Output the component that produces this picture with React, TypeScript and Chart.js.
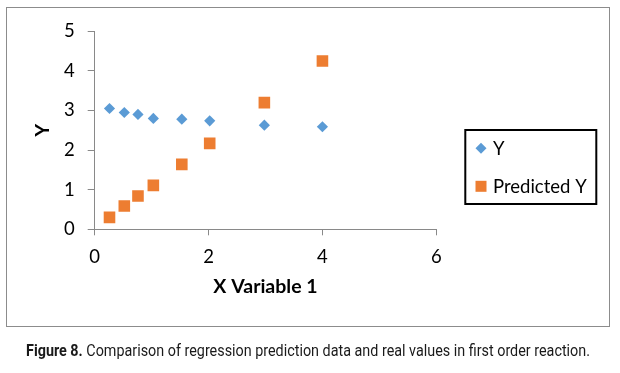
import React, { useEffect, useLayoutEffect, useRef } from 'react';
import { Chart, registerables } from 'chart.js';

Chart.register(...registerables);

const xValues = [0.26, 0.52, 0.76, 1.03, 1.53, 2.02, 2.98, 4.0];
const yActual = [3.05, 2.95, 2.9, 2.8, 2.78, 2.74, 2.63, 2.59];
const yPredicted = [0.3, 0.59, 0.84, 1.11, 1.64, 2.17, 3.2, 4.25];
const seriesLabels = ['Y', 'Predicted Y'];
const seriesColors = ['#5B9BD5', '#ED7D31'];
const xTitle = 'X Variable 1';
const yTitle = 'Y';
const xTicks = { min: 0, max: 6, step: 2 };
const yTicks = { min: 0, max: 5, step: 1 };
const captionBold = 'Figure 8.';
const captionRest = ' Comparison of regression prediction data and real values in first order reaction.';

const FONT = 'Lato, "Open Sans", sans-serif';
const AXIS_GRAY = '#898989';

const boxLegend = {
  id: 'boxLegend',
  afterDraw(chart: any) {
    const ctx = chart.ctx as CanvasRenderingContext2D;
    ctx.save();
    ctx.lineWidth = 2;
    ctx.strokeStyle = '#000';
    ctx.strokeRect(465.3, 130, 131, 74);
    ctx.font = `18.5px ${FONT}`;
    ctx.textBaseline = 'middle';
    ctx.textAlign = 'left';
    const rows = [148.3, 186.3];
    chart.data.datasets.forEach((ds: any, i: number) => {
      const cy = rows[i];
      const cx = 481;
      ctx.fillStyle = ds.backgroundColor;
      ctx.beginPath();
      if (ds.pointStyle === 'rectRot') {
        const r = 5.5;
        ctx.moveTo(cx - r, cy);
        ctx.lineTo(cx, cy - r);
        ctx.lineTo(cx + r, cy);
        ctx.lineTo(cx, cy + r);
        ctx.closePath();
      } else {
        const s = 5.5;
        ctx.rect(cx - s, cy - s, 2 * s, 2 * s);
      }
      ctx.fill();
      ctx.fillStyle = '#000';
      ctx.fillText(ds.label, 493, cy + 0.5);
    });
    ctx.restore();
  },
};

export default function App() {
  const canvasRef = useRef<HTMLCanvasElement | null>(null);
  const capRef = useRef<HTMLDivElement | null>(null);

  useLayoutEffect(() => {
    const el = capRef.current;
    if (!el) return;
    el.style.transform = 'none';
    const w = el.getBoundingClientRect().width;
    if (w > 0) el.style.transform = `scaleX(${564 / w})`;
  }, []);

  useEffect(() => {
    const canvas = canvasRef.current;
    if (!canvas) return;
    const chart = new Chart(canvas, {
      type: 'scatter',
      data: {
        datasets: [
          {
            label: seriesLabels[0],
            data: xValues.map((x, i) => ({ x, y: yActual[i] })),
            pointStyle: 'rectRot',
            pointRadius: 5.6,
            pointHoverRadius: 5.6,
            backgroundColor: seriesColors[0],
            borderColor: seriesColors[0],
            borderWidth: 0,
          },
          {
            label: seriesLabels[1],
            data: xValues.map((x, i) => ({ x, y: yPredicted[i] })),
            pointStyle: 'rect',
            pointRadius: 8.2,
            pointHoverRadius: 8.2,
            backgroundColor: seriesColors[1],
            borderColor: seriesColors[1],
            borderWidth: 0,
          },
        ],
      },
      options: {
        responsive: false,
        animation: false,
        events: [],
        layout: { padding: { left: 0, right: 183.7, top: 31.3, bottom: 60 } },
        plugins: { legend: { display: false }, tooltip: { enabled: false } },
        scales: {
          x: {
            type: 'linear',
            min: xTicks.min,
            max: xTicks.max,
            afterFit: (s: any) => { s.height = 83.7; },
            ticks: { stepSize: xTicks.step, padding: 10.5, color: '#000', font: { family: FONT, size: 18.5 } },
            grid: { display: true, drawOnChartArea: false, drawTicks: true, tickLength: 6, color: AXIS_GRAY },
            border: { display: true, color: AXIS_GRAY, width: 1 },
            title: { display: true, text: xTitle, color: '#000', font: { family: FONT, size: 19.5, weight: 'bold' }, padding: { top: 0, bottom: 15 } },
          },
          y: {
            type: 'linear',
            min: yTicks.min,
            max: yTicks.max,
            afterFit: (s: any) => { s.width = 94.7; },
            ticks: { stepSize: yTicks.step, padding: 13, color: '#000', font: { family: FONT, size: 18.5 } },
            grid: { display: true, drawOnChartArea: false, drawTicks: true, tickLength: 7, color: AXIS_GRAY },
            border: { display: true, color: AXIS_GRAY, width: 1 },
            title: { display: true, text: yTitle, color: '#000', font: { family: FONT, size: 19.5, weight: 'bold' }, padding: { top: 31, bottom: 0 } },
          },
        },
      },
      plugins: [boxLegend],
    } as any);
    return () => chart.destroy();
  }, []);

  return (
    <div style={{ position: 'absolute', left: 0, top: 0, width: 620, height: 373, background: '#fff', overflow: 'hidden' }}>
      <div style={{ position: 'absolute', left: 6, top: 7, width: 602, height: 318, border: '1px solid #8c8c8c' }} />
      <canvas ref={canvasRef} width={620} height={373} style={{ position: 'absolute', left: 0, top: 0, width: 620, height: 373 }} />
      <div
        ref={capRef}
        style={{
          position: 'absolute',
          left: 26,
          top: 340,
          whiteSpace: 'nowrap',
          fontFamily: 'Roboto, "Liberation Sans", sans-serif',
          fontSize: 17,
          lineHeight: '20px',
          color: '#1a1a1a',
          transformOrigin: 'left top',
          display: 'inline-block',
        }}
      >
        <span style={{ fontWeight: 700 }}>{captionBold}</span>
        <span>{captionRest}</span>
      </div>
    </div>
  );
}
